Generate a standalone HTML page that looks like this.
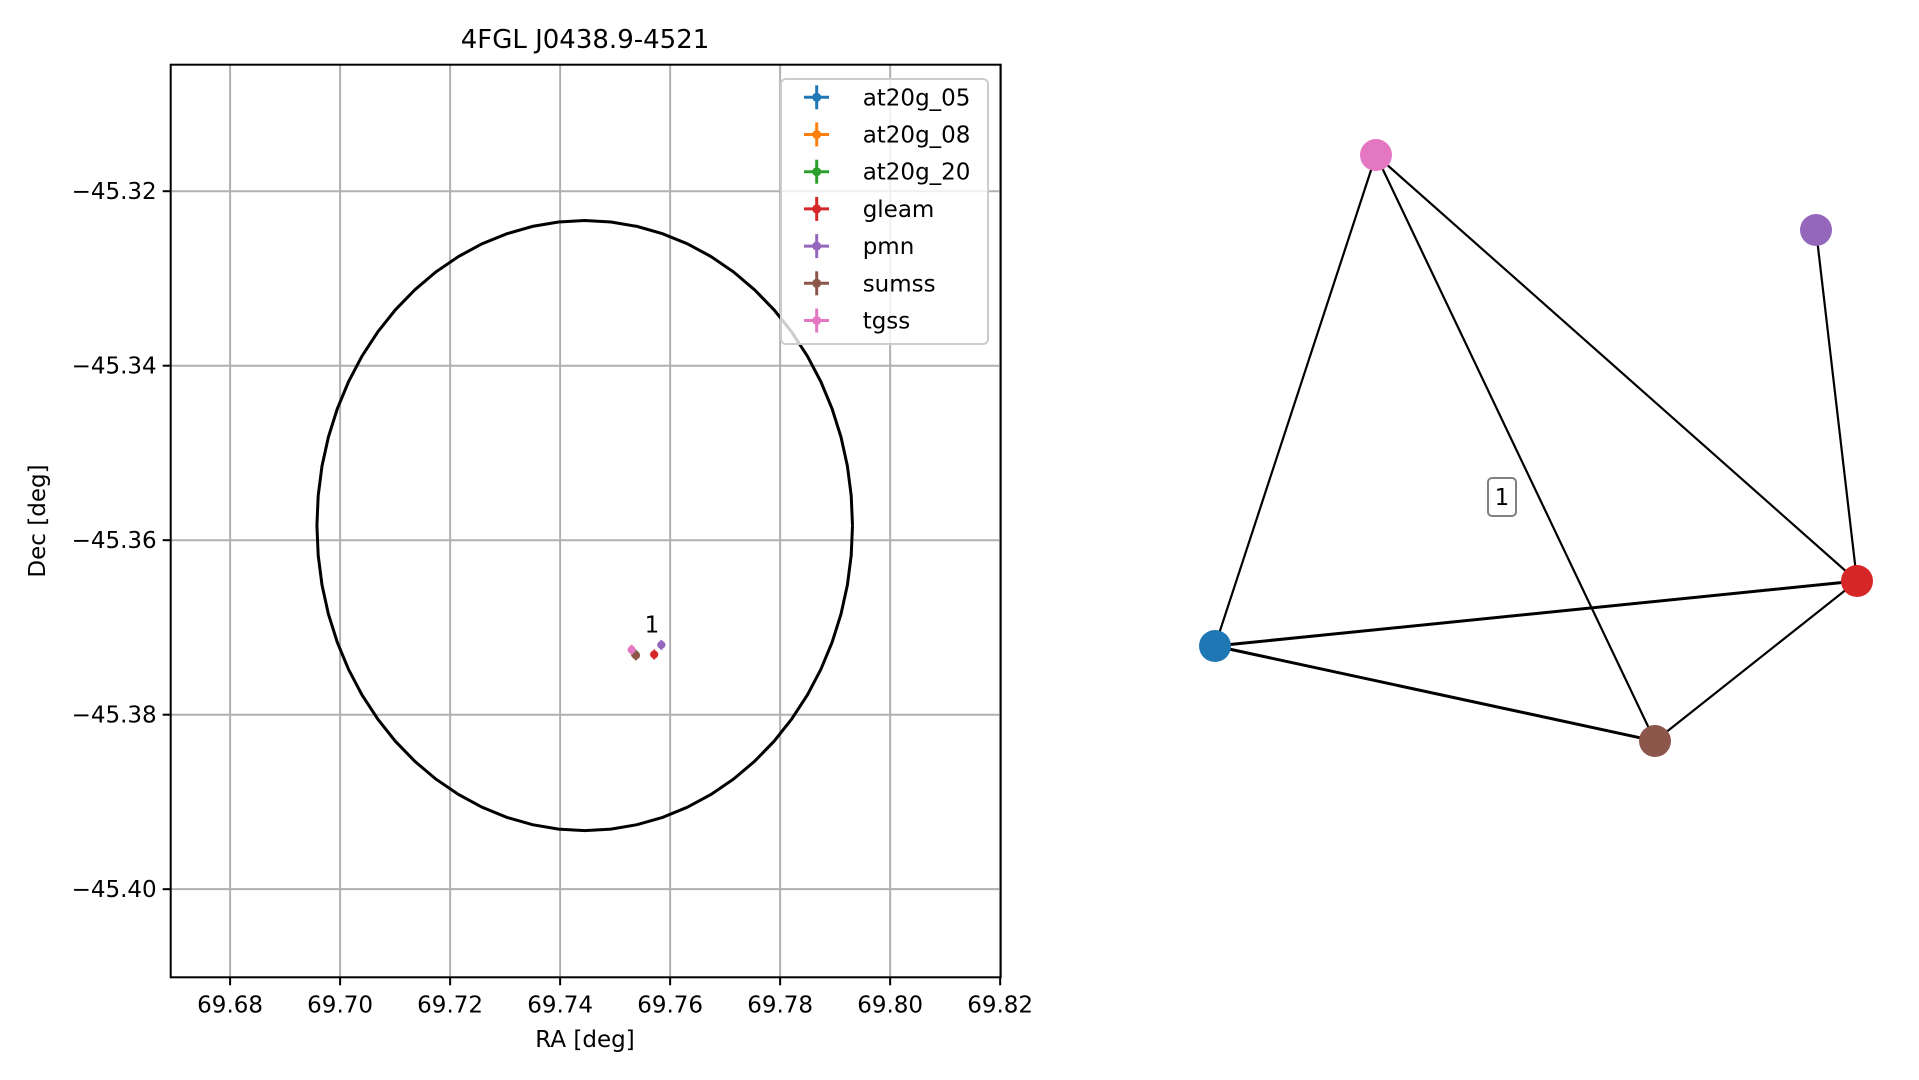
<!DOCTYPE html>
<html><head><meta charset="utf-8">
<style>
html,body{margin:0;padding:0;background:#fff;}
svg{display:block;font-family:"DejaVu Sans","Liberation Sans",sans-serif;}
</style></head>
<body>
<svg id="fig" width="1919" height="1080" viewBox="0 0 1919 1080" xmlns="http://www.w3.org/2000/svg">
  <rect x="0" y="0" width="1919" height="1080" fill="#fff"/>
  <g id="left"></g>
  <g id="right"></g>
</svg>
<script>
// ---- sky map data ----
const xTicks = [69.68, 69.70, 69.72, 69.74, 69.76, 69.78, 69.80, 69.82];
const yTicks = [-45.32, -45.34, -45.36, -45.38, -45.40];
const seriesNames = ["at20g_05","at20g_08","at20g_20","gleam","pmn","sumss","tgss"];
const seriesColors = ["#1f77b4","#ff7f0e","#2ca02c","#d62728","#9467bd","#8c564b","#e377c2"];
const seriesRA  = [69.7536, 69.7536, 69.7537, 69.7571, 69.7584, 69.7538, 69.7530];
const seriesDec = [-45.3731, -45.3731, -45.3731, -45.3731, -45.3720, -45.3732, -45.37256];
const ellipseCenter = [69.74447, -45.35832];
const ellipseRadii = [0.04869, 0.03496];
const clusterLabel = ["1", 69.7567, -45.3706];
// ---- graph data ----
const nodeNames = ["at20g_05","gleam","pmn","sumss","tgss"];
const nodeColors = ["#1f77b4","#d62728","#9467bd","#8c564b","#e377c2"];
const nodeX = [1215, 1857, 1816, 1655, 1376];
const nodeY = [646, 581, 230, 741, 155];
const edges = [[4,0],[4,3],[4,1],[2,1],[0,1],[1,3],[0,3]];
const edgeWidth = [2.2,2.2,2.2,2.2,3,2.2,3];

const NS = "http://www.w3.org/2000/svg";
function mk(tag, attrs, parent){const e=document.createElementNS(NS,tag);for(const k in attrs)e.setAttribute(k,attrs[k]);parent.appendChild(e);return e;}

const L = document.getElementById('left');
const ax = {x0:170.7, x1:1000.7, y0:64.7, y1:977.3};
const xmin=69.6692, xmax=69.8201, ymax=-45.3055, ymin=-45.4101;
function sx(v){return ax.x0+(v-xmin)/(xmax-xmin)*(ax.x1-ax.x0);}
function sy(v){return ax.y0+(ymax-v)/(ymax-ymin)*(ax.y1-ax.y0);}

// grid
xTicks.forEach(t=>{
  const g=mk('line',{x1:sx(t),x2:sx(t),y1:ax.y0,y2:ax.y1,stroke:'#b0b0b0','stroke-width':2},L);
  
  
  const tk=mk('line',{x1:sx(t),x2:sx(t),y1:ax.y1,y2:ax.y1+8,stroke:'#000','stroke-width':2},L);
  
  
  const tx=mk('text',{x:sx(t),y:ax.y1+35,'text-anchor':'middle','font-size':23,fill:'#000'},L);
  tx.textContent=t.toFixed(2);
  
  
});
yTicks.forEach(t=>{
  const g=mk('line',{x1:ax.x0,x2:ax.x1,y1:sy(t),y2:sy(t),stroke:'#b0b0b0','stroke-width':2},L);
  
  
  const tk=mk('line',{x1:ax.x0-8,x2:ax.x0,y1:sy(t),y2:sy(t),stroke:'#000','stroke-width':2},L);
  
  
  const tx=mk('text',{x:ax.x0-14,y:sy(t)+8,'text-anchor':'end','font-size':23,fill:'#000'},L);
  tx.textContent='\u2212'+Math.abs(t).toFixed(2);
  
  
});

// ellipse
let pts=[];
for(let i=0;i<=64;i++){const a=i/64*2*Math.PI;pts.push(sx(ellipseCenter[0]+ellipseRadii[0]*Math.cos(a)).toFixed(1)+','+sy(ellipseCenter[1]+ellipseRadii[1]*Math.sin(a)).toFixed(1));}
const el=mk('polyline',{points:pts.join(' '),fill:'none',stroke:'#000','stroke-width':3},L);



// points
seriesNames.forEach((n,i)=>{
  const g=mk('g',{},L);
  
  
  const x=sx(seriesRA[i]), y=sy(seriesDec[i]);
  mk('line',{x1:x-4,x2:x+4,y1:y,y2:y,stroke:seriesColors[i],'stroke-width':2},g);
  mk('line',{x1:x,x2:x,y1:y-5,y2:y+5,stroke:seriesColors[i],'stroke-width':2},g);
  mk('circle',{cx:x,cy:y,r:4,fill:seriesColors[i]},g);
});
const cl=mk('text',{x:sx(clusterLabel[1]),y:sy(clusterLabel[2]),'text-anchor':'middle','font-size':23,fill:'#000'},L);
cl.textContent=clusterLabel[0];



// spines
const sp=mk('rect',{x:ax.x0,y:ax.y0,width:ax.x1-ax.x0,height:ax.y1-ax.y0,fill:'none',stroke:'#000','stroke-width':2},L);



// legend
const lg=mk('g',{},L);


mk('rect',{x:781,y:79,width:207,height:265,rx:5,fill:'rgba(255,255,255,0.8)',stroke:'#cccccc','stroke-width':2},lg);
seriesNames.forEach((n,i)=>{
  const y=97.3+i*37.2;
  const e=mk('g',{},lg);
  
  
  mk('line',{x1:804,x2:829,y1:y,y2:y,stroke:seriesColors[i],'stroke-width':3},e);
  mk('line',{x1:816.7,x2:816.7,y1:y-12,y2:y+12,stroke:seriesColors[i],'stroke-width':3},e);
  mk('circle',{cx:816.7,cy:y,r:4.5,fill:seriesColors[i]},e);
  const t=mk('text',{x:862.7,y:y+8,'font-size':23,fill:'#000'},e);
  t.textContent=n;
});

// titles
const ti=mk('text',{x:585,y:48,'text-anchor':'middle','font-size':26,fill:'#000'},L);
ti.textContent='4FGL J0438.9-4521';


const xl=mk('text',{x:585,y:1047,'text-anchor':'middle','font-size':23,fill:'#000'},L);
xl.textContent='RA [deg]';


const yl=mk('text',{x:45,y:521,'text-anchor':'middle','font-size':23,fill:'#000',transform:'rotate(-90 45 521)'},L);
yl.textContent='Dec [deg]';



// ---- graph ----
const R=document.getElementById('right');
edges.forEach((e,i)=>{
  const ln=mk('line',{x1:nodeX[e[0]],y1:nodeY[e[0]],x2:nodeX[e[1]],y2:nodeY[e[1]],stroke:'#000','stroke-width':edgeWidth[i]},R);
  
  
});
nodeNames.forEach((n,i)=>{
  const c=mk('circle',{cx:nodeX[i],cy:nodeY[i],r:16,fill:nodeColors[i]},R);
  
  
});
const lb=mk('g',{},R);


mk('rect',{x:1488,y:478,width:28,height:38,rx:4,fill:'#fff',stroke:'#808080','stroke-width':2},lb);
const lt=mk('text',{x:1502,y:505,'text-anchor':'middle','font-size':23,fill:'#000'},lb);
lt.textContent='1';
</script>
</body></html>
